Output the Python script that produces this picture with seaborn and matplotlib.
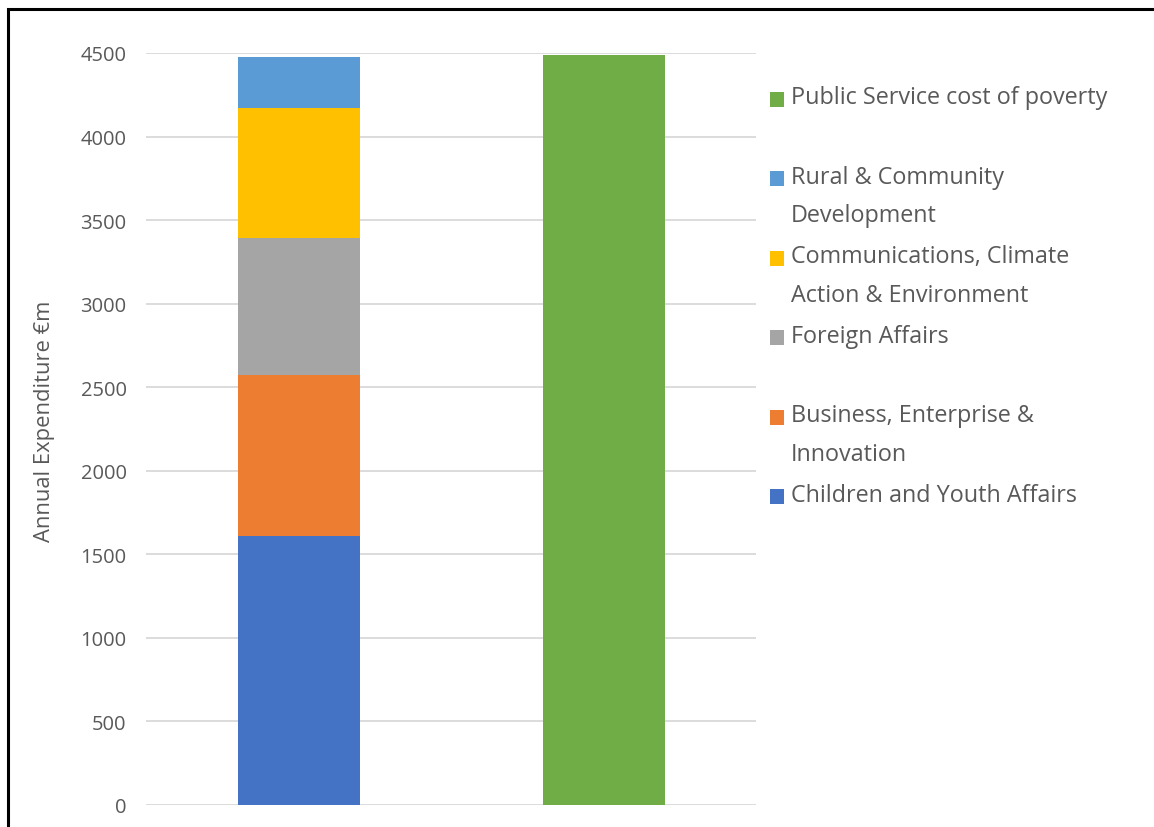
import matplotlib
matplotlib.use("Agg")
import matplotlib.pyplot as plt
import seaborn as sns
import pandas as pd
import numpy as np
from matplotlib.patches import Patch, Rectangle
from matplotlib.legend_handler import HandlerPatch

# ---- data ----
categories = ["Departments", "Poverty"]
dept_labels = ["Children and Youth Affairs", "Business, Enterprise &\nInnovation",
               "Foreign Affairs", "Communications, Climate\nAction & Environment",
               "Rural & Community\nDevelopment"]
dept_values = [1611, 964, 817, 777, 305]
poverty_label = "Public Service cost of poverty"
poverty_value = [4490]
dept_colors = ["#4472C4", "#ED7D31", "#A5A5A5", "#FFC000", "#5B9BD5"]
poverty_color = "#70AD47"
y_ticks = [0, 500, 1000, 1500, 2000, 2500, 3000, 3500, 4000, 4500]
y_label = "Annual Expenditure €m"

sns.set_style("white")
plt.rcParams["font.family"] = ["Open Sans", "DejaVu Sans"]
TXT = "#595959"

fig = plt.figure(figsize=(11.54, 8.28), dpi=100)
ax = fig.add_axes([146/1154, 1-806/828, (756-146)/1154, (806-54)/828])

# stacked bar via cumulative overlapping bars (top layer first)
cum = np.cumsum(dept_values)
for i in range(len(dept_values)-1, -1, -1):
    df = pd.DataFrame({"cat": [categories[0]], "val": [cum[i]]})
    sns.barplot(data=df, x="cat", y="val", order=categories, color=dept_colors[i],
                width=0.4, ax=ax, saturation=1, edgecolor="none", linewidth=0)
dfp = pd.DataFrame({"cat": [categories[1]], "val": poverty_value})
sns.barplot(data=dfp, x="cat", y="val", order=categories, color=poverty_color,
            width=0.4, ax=ax, saturation=1, edgecolor="none", linewidth=0)

ax.set_xlim(-0.5, 1.5)
ax.set_ylim(0, 4500)
ax.set_yticks(y_ticks)
ax.set_yticklabels([str(t) for t in y_ticks], fontsize=14.5, color=TXT)
ax.tick_params(axis="y", length=0, pad=14)
ax.set_xticks([])
ax.set_xlabel("")
ax.yaxis.grid(True, color="#D9D9D9", linewidth=1.3)
ax.set_axisbelow(True)
for s in ax.spines.values():
    s.set_visible(False)
ax.set_ylabel(y_label, fontsize=15.8, color=TXT)
ax.yaxis.set_label_coords(-0.149, 0.512)

# legend (marker aligned with first line of each two-line entry)
shift_pt = 13.0
def top_patch(legend, orig_handle, xdescent, ydescent, width, height, fontsize):
    return Rectangle(xy=(-xdescent, -ydescent + shift_pt), width=width, height=height)

leg_labels = [poverty_label] + dept_labels[::-1]
leg_colors = [poverty_color] + dept_colors[::-1]
leg_labels2 = [l if "\n" in l else l + "\n " for l in leg_labels]
handles = [Patch(facecolor=c, edgecolor="none") for c in leg_colors]
leg = fig.legend(handles, leg_labels2, loc="upper left",
                 bbox_to_anchor=(770/1154, 1-86/828), bbox_transform=fig.transFigure,
                 frameon=False, fontsize=16.8, labelcolor=TXT, borderpad=0,
                 borderaxespad=0, handlelength=0.6, handleheight=0.6,
                 handletextpad=0.3, labelspacing=0.72,
                 handler_map={Patch: HandlerPatch(patch_func=top_patch)})
for t in leg.get_texts():
    t.set_linespacing(1.82)

# outer frame
fig.add_artist(Rectangle((8/1154, -0.1), 1.2, 1.1 - 10/828, transform=fig.transFigure,
                         fill=False, edgecolor="black", linewidth=2.2))

fig.savefig("out.png", dpi=100)
